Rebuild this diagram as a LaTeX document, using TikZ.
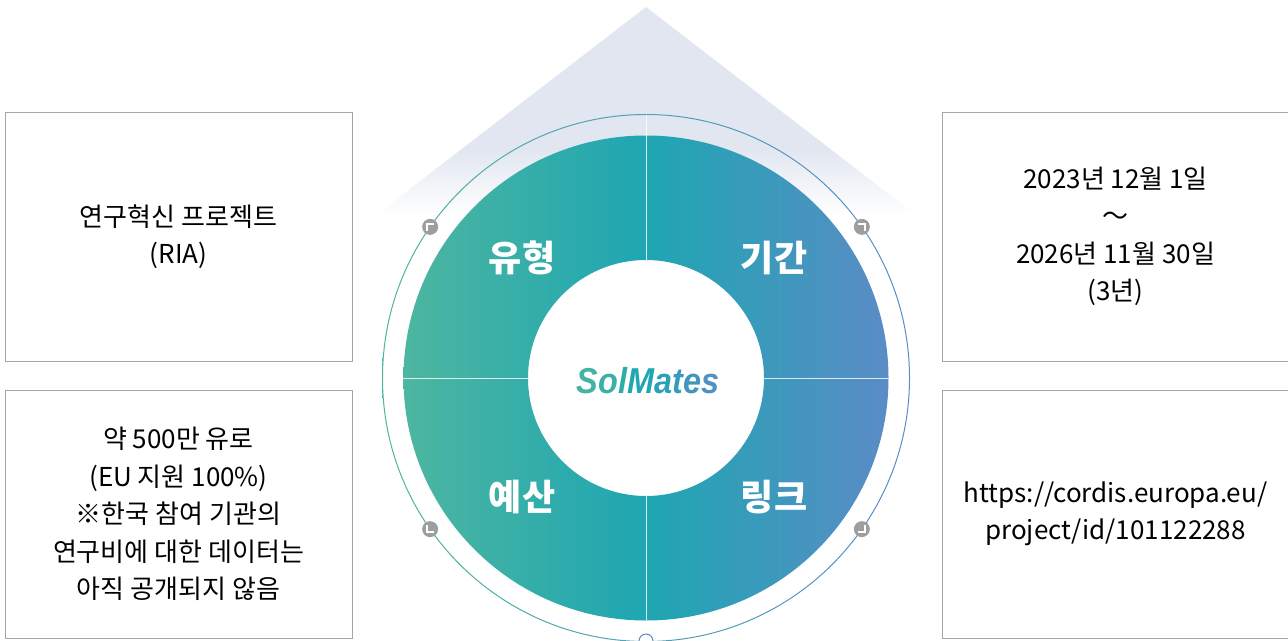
\documentclass[tikz,border=0pt]{standalone}
\usepackage{fontspec}
\setmainfont{Noto Sans CJK KR}
\newfontfamily\logofont{Liberation Sans}
\usepackage{xcolor}
\definecolor{tealgreen}{HTML}{4DB6A0}
\definecolor{tealmid}{HTML}{1EA6B2}
\definecolor{steelblue}{HTML}{5A8CC6}
\definecolor{lavender}{HTML}{E1E6F0}
\definecolor{boxgray}{HTML}{A6A6A6}
\definecolor{dotgray}{HTML}{9E9E9E}
\pgfdeclareverticalshading{roofshade}{100bp}{color(0bp)=(white); color(25bp)=(white); color(41bp)=(lavender); color(100bp)=(lavender)}

\begin{document}
\begin{tikzpicture}[
    x=1pt, y=-1pt,
    infobox/.style = {draw=boxgray, line width=0.8pt,
      minimum width=347pt, minimum height=249pt, inner sep=0pt,
      align=center, text=black, font=\fontsize{26}{37.5}\selectfont},
    sector/.style  = {text=white, font=\fontsize{36}{36}\selectfont\bfseries},
    marker/.style  = {circle, fill=dotgray, minimum size=16pt, inner sep=0pt},
    corner/.style  = {white, line width=2.2pt}
  ]
  \useasboundingbox (0,0) rectangle (1288,640);
  \coordinate (hub) at (646,378);
  \coordinate (apex) at (646,7);

  % roof behind the wheel
  \shade[shading=roofshade] (apex) -- (376,215) -- (916,215) -- cycle;

  % outer ring and wheel
  \shade[even odd rule, left color=tealgreen, right color=steelblue]
    (hub) circle (264pt) (hub) circle (263pt);
  \shade[even odd rule, left color=tealgreen, right color=steelblue, middle color=tealmid]
    (hub) circle (242.5pt) (hub) circle (118pt);
  \foreach \a in {0,90,180,270}
    \draw[white, opacity=0.8, line width=1pt] (hub) ++(\a:118pt) -- ++(\a:145pt);

  % markers on the ring
  \foreach \a/\nm in {145/tl,35/tr,215/bl,325/br}
    \node[marker] (m\nm) at ([shift={(\a:263.5pt)}]hub) {};
  \draw[corner] ([shift={(-3,4)}]mtl.center) -- ++(0,-7) -- ++(7,0);
  \draw[corner] ([shift={(-4,-3)}]mtr.center) -- ++(7,0) -- ++(0,7);
  \draw[corner] ([shift={(-3,-4)}]mbl.center) -- ++(0,7) -- ++(7,0);
  \draw[corner] ([shift={(3,-4)}]mbr.center) -- ++(0,7) -- ++(-7,0);
  \node[circle, draw=steelblue, fill=white, line width=1pt,
    minimum size=14pt, inner sep=0pt] (tip) at (646,641) {};

  % sector labels
  \node[sector] (type)   at (522,258) {유형};
  \node[sector] (period) at (774,258) {기간};
  \node[sector] (budget) at (522,497) {예산};
  \node[sector] (link)   at (774,497) {링크};
  \node[font=\logofont\fontsize{36}{36}\selectfont\bfseries\itshape]
    (logo) at (648,381) {\scalebox{0.9}[1]{%
      \textcolor{tealgreen!80!tealmid}{S}\textcolor{tealgreen!60!tealmid}{o}%
      \textcolor{tealgreen!35!tealmid}{l}\textcolor{tealmid}{M}%
      \textcolor{steelblue!20!tealmid}{a}\textcolor{steelblue!40!tealmid}{t}%
      \textcolor{steelblue!60!tealmid}{e}\textcolor{steelblue!80!tealmid}{s}}};

  % info boxes
  \node[infobox] (kind) at (178.5,236.5) {연구혁신 프로젝트\\(RIA)};
  \node[infobox, minimum height=248pt] (money) at (178.5,514)
    {약 500만 유로\\(EU 지원 100\%)\\※한국 참여 기관의\\연구비에 대한 데이터는\\아직 공개되지 않음};
  \node[infobox] (dates) at (1115.5,236.5)
    {2023년 12월 1일\\～\\2026년 11월 30일\\(3년)};
  \node[infobox, minimum height=248pt] (url) at (1115.5,514)
    {https://cordis.europa.eu/\\project/id/101122288};
\end{tikzpicture}
\end{document}
